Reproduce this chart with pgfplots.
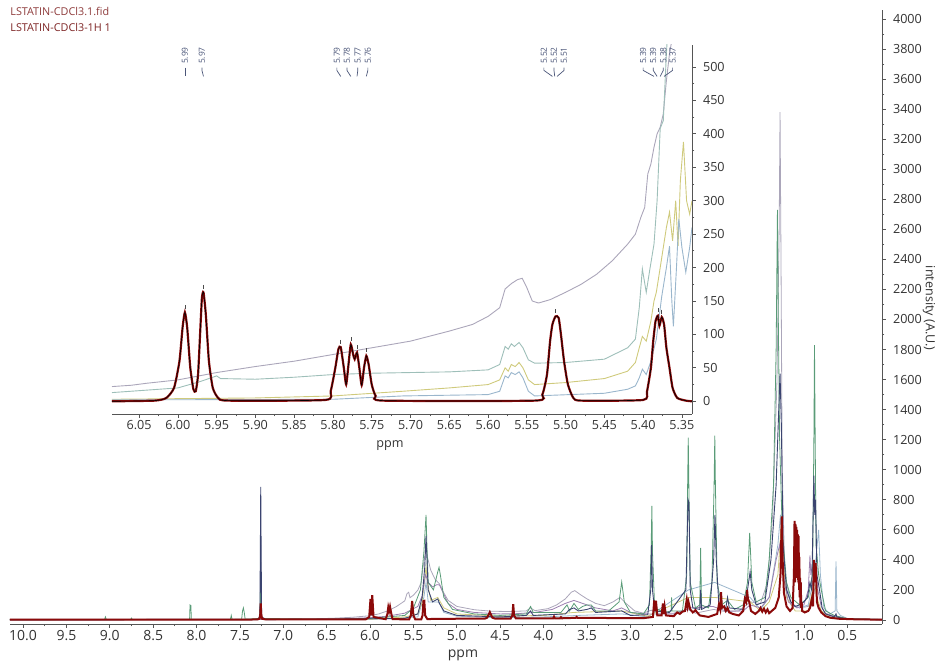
\documentclass[border=0pt]{standalone}
\usepackage{fontspec}
\setmainfont{Open Sans}
\usepackage{pgfplots}
\pgfplotsset{compat=1.18}
\definecolor{cred}{HTML}{8B0A0A}
\definecolor{cnavy}{HTML}{3B4470}
\definecolor{cgreen}{HTML}{5A9C78}
\definecolor{cgrey}{HTML}{ABA6BA}
\definecolor{cmauve}{HTML}{9C80B0}
\definecolor{cyellow}{HTML}{CFCA7C}
\definecolor{cblue}{HTML}{9AB6CC}
\definecolor{cteal}{HTML}{9EBFB9}
\definecolor{labcol}{HTML}{4A5578}
\definecolor{axgray}{HTML}{555555}
\definecolor{tickcol}{HTML}{333333}
\definecolor{tA}{HTML}{8E3B3B}
\definecolor{tB}{HTML}{7D2424}
\begin{document}
\begin{tikzpicture}
\useasboundingbox (0,0) rectangle (468.5pt,331pt);
% ---------------- main spectrum ----------------
\begin{axis}[name=main, at={(5pt,19pt)}, anchor=south west, scale only axis,
  width=436pt, height=307pt,
  x dir=reverse, xmin=0.1, xmax=10.15, ymin=-27, ymax=4060,
  axis x line*=bottom, axis y line*=right,
  xtick={0.5,1,1.5,2,2.5,3,3.5,4,4.5,5,5.5,6,6.5,7,7.5,8,8.5,9,9.5,10},
  minor x tick num=1,
  ytick={0,200,...,4000}, minor y tick num=1,
  tick align=outside, major tick length=2pt, minor tick length=1.2pt,
  axis line style={color=axgray, line width=0.4pt},
  every tick/.style={color=axgray, line width=0.4pt},
  /pgf/number format/assume math mode=true,
  xticklabel style={font=\fontsize{7}{8}\selectfont, text=tickcol, inner sep=1pt, /pgf/number format/.cd, fixed, fixed zerofill, precision=1},
  yticklabel style={font=\fontsize{6.3}{7}\selectfont, text=tickcol, /pgf/number format/.cd, fixed, 1000 sep={}},
  clip=false,
]
\addplot[cgrey, line width=0.4pt] coordinates {(10.15,5)(9.0,5)(7.30,6)(7.265,20)(7.26,500)(7.255,20)(7.2,6)(6.6,8)(6.4,12)(6.2,18)(6.0,28)(5.9,40)(5.8,60)(5.7,88)(5.6,127)(5.575,175)(5.555,184)(5.54,148)(5.50,165)(5.45,198)(5.41,250)(5.39,350)(5.37,420)(5.355,470)(5.34,420)(5.30,330)(5.25,270)(5.20,240)(5.15,180)(5.10,130)(5.0,90)(4.8,68)(4.6,58)(4.4,56)(4.2,60)(4.15,80)(4.10,62)(3.95,75)(3.85,100)(3.75,140)(3.68,185)(3.64,195)(3.58,170)(3.50,140)(3.40,110)(3.30,95)(3.20,120)(3.12,150)(3.05,110)(2.95,60)(2.85,45)(2.76,65)(2.70,45)(2.50,45)(2.34,70)(2.25,45)(2.04,70)(1.9,55)(1.75,60)(1.62,120)(1.50,110)(1.42,250)(1.36,700)(1.31,1600)(1.285,2600)(1.275,3380)(1.265,2500)(1.25,1000)(1.22,300)(1.15,110)(1.05,80)(0.95,90)(0.90,150)(0.87,220)(0.84,90)(0.78,50)(0.7,35)(0.6,20)(0.5,10)(0.1,5)};
\addplot[cblue, line width=0.4pt] coordinates {(10.15,2)(6.0,3)(5.6,15)(5.45,20)(5.38,150)(5.355,250)(5.33,120)(5.22,120)(5.20,110)(5.15,50)(5.0,25)(4.5,15)(4.0,20)(3.6,30)(3.1,40)(2.8,20)(2.33,200)(2.03,250)(1.62,150)(1.5,70)(1.40,150)(1.30,500)(1.27,700)(1.24,300)(1.15,100)(1.05,80)(0.95,100)(0.88,300)(0.83,600)(0.81,300)(0.77,80)(0.70,40)(0.64,60)(0.63,390)(0.62,60)(0.58,30)(0.5,10)(0.1,2)};
\addplot[cyellow, line width=0.4pt] coordinates {(10.15,2)(6.0,4)(5.6,20)(5.45,40)(5.40,120)(5.37,280)(5.355,353)(5.34,250)(5.30,130)(5.22,150)(5.15,80)(5.0,40)(4.5,25)(4.0,30)(3.65,50)(3.1,60)(2.8,25)(2.33,150)(2.03,150)(1.62,120)(1.5,60)(1.40,120)(1.30,300)(1.26,640)(1.24,400)(1.20,150)(1.10,60)(0.95,60)(0.88,250)(0.85,150)(0.80,60)(0.7,20)(0.5,5)(0.1,2)};
\addplot[cmauve, line width=0.4pt] coordinates {(10.15,2)(6.5,4)(6.0,15)(5.8,25)(5.6,45)(5.45,90)(5.40,160)(5.36,300)(5.33,250)(5.28,220)(5.23,235)(5.20,233)(5.15,170)(5.10,110)(5.0,70)(4.8,50)(4.5,40)(4.3,42)(4.1,50)(3.9,70)(3.75,110)(3.65,130)(3.55,110)(3.40,80)(3.20,60)(3.10,80)(3.0,50)(2.8,40)(2.5,40)(2.3,80)(2.05,90)(1.9,60)(1.7,60)(1.62,100)(1.5,80)(1.40,150)(1.32,400)(1.28,500)(1.24,300)(1.18,120)(1.08,80)(1.0,100)(0.95,200)(0.93,430)(0.92,300)(0.90,380)(0.88,250)(0.86,330)(0.84,200)(0.80,90)(0.75,40)(0.6,15)(0.5,5)(0.1,2)};
\addplot[cgreen, line width=0.4pt] coordinates {(10.15,3)(9.06,3)(9.05,20)(9.04,3)(8.76,3)(8.75,12)(8.74,3)(8.08,3)(8.075,100)(8.065,95)(8.06,3)(7.61,3)(7.60,30)(7.59,3)(7.48,5)(7.47,60)(7.46,80)(7.45,50)(7.44,5)(7.27,10)(7.26,300)(7.25,10)(6.5,5)(6.0,10)(5.6,30)(5.50,80)(5.42,200)(5.38,450)(5.355,700)(5.345,500)(5.33,250)(5.27,200)(5.22,320)(5.205,350)(5.19,300)(5.15,150)(5.05,70)(4.8,40)(4.5,30)(4.2,40)(4.15,90)(4.12,50)(3.8,50)(3.73,100)(3.70,60)(3.65,110)(3.60,70)(3.55,90)(3.50,100)(3.45,100)(3.40,60)(3.25,60)(3.13,120)(3.10,253)(3.07,120)(3.0,50)(2.85,40)(2.78,100)(2.76,500)(2.752,760)(2.745,450)(2.72,80)(2.60,50)(2.53,60)(2.525,150)(2.52,60)(2.40,60)(2.35,300)(2.34,900)(2.333,1213)(2.326,900)(2.31,250)(2.25,80)(2.20,100)(2.19,480)(2.18,100)(2.10,80)(2.06,250)(2.035,900)(2.027,1227)(2.02,900)(2.0,250)(1.95,100)(1.88,130)(1.80,70)(1.70,100)(1.65,250)(1.625,580)(1.615,450)(1.60,250)(1.55,120)(1.45,150)(1.40,400)(1.35,900)(1.32,1800)(1.305,2730)(1.295,2000)(1.28,1200)(1.25,600)(1.20,250)(1.15,150)(1.05,100)(0.95,150)(0.90,300)(0.885,1200)(0.878,1830)(0.870,1200)(0.86,500)(0.83,300)(0.80,200)(0.75,60)(0.65,30)(0.5,8)(0.1,3)};
\addplot[cnavy, line width=0.45pt] coordinates {(10.15,0)(7.30,2)(7.27,20)(7.263,600)(7.26,885)(7.257,600)(7.25,20)(7.2,2)(5.6,10)(5.45,40)(5.40,150)(5.37,350)(5.355,560)(5.345,420)(5.33,200)(5.28,120)(5.22,140)(5.20,110)(5.15,60)(5.0,30)(4.5,20)(4.2,30)(4.15,60)(4.12,30)(3.75,40)(3.7,70)(3.65,80)(3.6,60)(3.5,70)(3.45,80)(3.4,50)(3.1,60)(3.0,30)(2.80,35)(2.765,200)(2.755,500)(2.745,200)(2.72,60)(2.55,50)(2.36,200)(2.335,800)(2.325,780)(2.31,200)(2.28,80)(2.20,70)(2.19,200)(2.18,70)(2.08,100)(2.04,400)(2.025,700)(2.01,400)(1.98,100)(1.90,80)(1.88,150)(1.86,80)(1.70,70)(1.65,200)(1.62,320)(1.60,200)(1.55,100)(1.45,120)(1.38,400)(1.32,900)(1.29,1400)(1.275,1640)(1.26,1300)(1.24,500)(1.20,200)(1.15,120)(1.10,90)(1.05,100)(1.0,120)(0.96,150)(0.93,250)(0.91,200)(0.885,960)(0.875,700)(0.865,800)(0.85,300)(0.82,200)(0.79,80)(0.75,40)(0.65,20)(0.63,40)(0.62,20)(0.5,5)(0.1,0)};
\addplot[cred, line width=1pt] coordinates {(10.15,2)(9.0,2)(8.0,2)(7.30,3)(7.275,8)(7.265,40)(7.26,110)(7.255,40)(7.245,8)(7.2,3)(6.5,3)(6.05,4)(6.01,20)(5.995,140)(5.985,30)(5.975,165)(5.96,20)(5.82,5)(5.80,40)(5.79,85)(5.78,60)(5.77,88)(5.755,40)(5.74,5)(5.55,4)(5.53,30)(5.515,127)(5.50,30)(5.48,4)(5.41,4)(5.395,30)(5.385,125)(5.375,127)(5.365,30)(5.34,6)(5.0,8)(4.68,8)(4.65,15)(4.62,52)(4.59,15)(4.56,9)(4.38,9)(4.36,30)(4.35,105)(4.34,30)(4.32,10)(4.0,11)(3.89,11)(3.88,22)(3.87,11)(3.81,11)(3.80,18)(3.79,11)(3.63,14)(3.62,20)(3.61,14)(3.0,12)(2.85,12)(2.74,20)(2.725,130)(2.715,60)(2.705,128)(2.69,30)(2.64,30)(2.625,110)(2.615,40)(2.605,90)(2.59,30)(2.5,25)(2.46,50)(2.43,40)(2.40,55)(2.37,60)(2.35,135)(2.34,90)(2.33,120)(2.31,70)(2.28,50)(2.25,65)(2.23,50)(2.20,30)(2.10,20)(2.0,40)(1.98,100)(1.965,70)(1.955,185)(1.945,80)(1.92,90)(1.90,60)(1.88,80)(1.86,50)(1.82,40)(1.75,30)(1.70,60)(1.68,140)(1.665,120)(1.655,200)(1.645,140)(1.63,120)(1.61,60)(1.56,40)(1.52,60)(1.50,80)(1.48,55)(1.46,75)(1.44,50)(1.42,70)(1.40,45)(1.37,60)(1.33,80)(1.29,150)(1.27,300)(1.255,690)(1.245,400)(1.23,180)(1.20,90)(1.16,60)(1.13,80)(1.115,300)(1.108,660)(1.102,250)(1.097,640)(1.092,300)(1.087,620)(1.082,280)(1.078,600)(1.073,300)(1.069,570)(1.065,250)(1.061,560)(1.056,200)(1.052,420)(1.048,150)(1.044,280)(1.040,100)(1.036,250)(1.031,80)(1.026,120)(1.02,60)(0.99,50)(0.95,60)(0.93,80)(0.905,150)(0.895,90)(0.885,400)(0.875,250)(0.865,380)(0.85,120)(0.83,80)(0.80,50)(0.75,25)(0.70,15)(0.60,8)(0.40,4)(0.1,2)};
\end{axis}
% ---------------- inset ----------------
\begin{axis}[name=inset, at={(56pt,124pt)}, anchor=south west, scale only axis,
  width=290pt, height=184.5pt,
  x dir=reverse, xmin=5.337, xmax=6.085, ymin=-19, ymax=533,
  axis x line*=bottom, axis y line*=right,
  xtick={5.35,5.40,5.45,5.50,5.55,5.60,5.65,5.70,5.75,5.80,5.85,5.90,5.95,6.00,6.05},
  minor x tick num=1,
  ytick={0,50,...,500}, minor y tick num=1,
  tick align=outside, major tick length=2pt, minor tick length=1.2pt,
  axis line style={color=axgray, line width=0.4pt},
  every tick/.style={color=axgray, line width=0.4pt},
  /pgf/number format/assume math mode=true,
  xticklabel style={font=\fontsize{6.3}{7}\selectfont, text=tickcol, inner sep=1pt, /pgf/number format/.cd, fixed, fixed zerofill, precision=2},
  yticklabel style={font=\fontsize{6.3}{7}\selectfont, text=tickcol, /pgf/number format/.cd, fixed, 1000 sep={}},
]
\addplot[cgrey, line width=0.45pt] coordinates {(6.085,22)(6.06,24)(6.04,27)(6.0,32)(5.95,43)(5.90,52)(5.85,60)(5.80,70)(5.75,80)(5.70,90)(5.65,105)(5.62,115)(5.60,127)(5.585,140)(5.578,168)(5.570,176)(5.562,182)(5.556,184)(5.550,170)(5.543,150)(5.535,147)(5.52,152)(5.50,163)(5.48,175)(5.46,190)(5.44,210)(5.42,235)(5.41,250)(5.403,275)(5.398,290)(5.394,340)(5.390,355)(5.386,380)(5.382,400)(5.378,410)(5.374,430)(5.370,480)(5.366,520)(5.36,560)(5.357,600)(5.352,540)(5.348,620)(5.337,600)};
\addplot[cteal, line width=0.45pt] coordinates {(6.085,13)(6.0,20)(5.97,30)(5.955,36)(5.95,38)(5.945,34)(5.90,33)(5.85,36)(5.80,40)(5.75,42)(5.70,43)(5.65,44)(5.60,47)(5.585,55)(5.578,82)(5.574,78)(5.570,86)(5.566,82)(5.560,88)(5.555,80)(5.548,62)(5.540,57)(5.50,58)(5.45,63)(5.42,80)(5.41,93)(5.405,140)(5.401,198)(5.396,163)(5.391,200)(5.386,235)(5.382,300)(5.378,408)(5.374,420)(5.370,520)(5.366,600)(5.36,560)(5.355,620)(5.35,600)(5.345,640)(5.337,620)};
\addplot[cyellow, line width=0.45pt] coordinates {(6.085,3)(5.90,5)(5.80,8)(5.71,15)(5.65,20)(5.60,25)(5.585,32)(5.578,50)(5.574,45)(5.570,55)(5.565,52)(5.560,58)(5.555,50)(5.548,32)(5.54,25)(5.50,28)(5.45,34)(5.42,45)(5.41,58)(5.405,80)(5.401,97)(5.396,90)(5.39,120)(5.386,150)(5.383,163)(5.378,200)(5.374,230)(5.370,260)(5.366,283)(5.362,240)(5.358,300)(5.355,232)(5.352,330)(5.348,388)(5.344,300)(5.340,280)(5.337,300)};
\addplot[cblue, line width=0.45pt] coordinates {(6.085,2)(5.80,3)(5.71,8)(5.60,10)(5.585,15)(5.578,38)(5.574,35)(5.570,43)(5.565,40)(5.560,44)(5.555,35)(5.548,15)(5.54,8)(5.45,12)(5.42,18)(5.41,23)(5.405,35)(5.401,48)(5.396,40)(5.39,60)(5.383,93)(5.376,157)(5.370,200)(5.366,232)(5.363,150)(5.361,112)(5.357,200)(5.354,273)(5.350,230)(5.345,193)(5.340,230)(5.337,260)};
\addplot[cred, line width=1.1pt, smooth, tension=0.35] coordinates {(6.085,0)(6.03,1)(6.015,5)(6.005,20)(5.998,60)(5.994,110)(5.991,133)(5.988,110)(5.984,50)(5.980,18)(5.977,15)(5.974,40)(5.971,110)(5.969,155)(5.967,163)(5.964,130)(5.960,60)(5.955,20)(5.948,5)(5.935,1)(5.81,2)(5.803,15)(5.797,50)(5.793,78)(5.790,81)(5.786,50)(5.783,25)(5.780,55)(5.777,85)(5.774,70)(5.772,63)(5.769,73)(5.766,50)(5.763,24)(5.760,50)(5.757,68)(5.754,55)(5.750,25)(5.745,8)(5.735,1)(5.54,1)(5.53,10)(5.524,40)(5.520,90)(5.517,115)(5.513,127)(5.509,125)(5.506,100)(5.502,60)(5.497,25)(5.490,5)(5.48,1)(5.40,2)(5.395,15)(5.390,50)(5.387,90)(5.384,120)(5.381,128)(5.379,113)(5.376,126)(5.373,115)(5.370,80)(5.366,50)(5.362,20)(5.356,5)(5.345,1)(5.337,0)};
\addplot[black, line width=0.3pt, smooth, tension=0.35] coordinates {(6.085,0)(6.03,1)(6.015,5)(6.005,20)(5.998,60)(5.994,110)(5.991,133)(5.988,110)(5.984,50)(5.980,18)(5.977,15)(5.974,40)(5.971,110)(5.969,155)(5.967,163)(5.964,130)(5.960,60)(5.955,20)(5.948,5)(5.935,1)(5.81,2)(5.803,15)(5.797,50)(5.793,78)(5.790,81)(5.786,50)(5.783,25)(5.780,55)(5.777,85)(5.774,70)(5.772,63)(5.769,73)(5.766,50)(5.763,24)(5.760,50)(5.757,68)(5.754,55)(5.750,25)(5.745,8)(5.735,1)(5.54,1)(5.53,10)(5.524,40)(5.520,90)(5.517,115)(5.513,127)(5.509,125)(5.506,100)(5.502,60)(5.497,25)(5.490,5)(5.48,1)(5.40,2)(5.395,15)(5.390,50)(5.387,90)(5.384,120)(5.381,128)(5.379,113)(5.376,126)(5.373,115)(5.370,80)(5.366,50)(5.362,20)(5.356,5)(5.345,1)(5.337,0)};
\addplot[only marks, mark=|, mark size=1pt, black!70, line width=0.3pt] coordinates {(5.991,141)(5.967,171)(5.790,89)(5.777,93)(5.769,81)(5.757,76)(5.513,135)(5.381,136)(5.376,134)};
% peak labels
\foreach \lx/\px/\t in {5.991/5.991/5.99, 5.969/5.967/5.97, 5.795/5.790/5.79, 5.782/5.777/5.78, 5.768/5.769/5.77, 5.755/5.757/5.76, 5.528/5.517/5.52, 5.515/5.514/5.52, 5.502/5.511/5.51, 5.400/5.386/5.39, 5.387/5.382/5.39, 5.374/5.378/5.38, 5.362/5.373/5.37}{
  \edef\tmp{\noexpand\node[rotate=90, anchor=west, inner sep=0pt, font=\noexpand\fontsize{4.2}{5}\noexpand\selectfont, text=labcol] at (axis cs:\lx,504) {\t};
  \noexpand\draw[labcol, line width=0.35pt] (axis cs:\lx,499) -- (axis cs:\lx,495) -- (axis cs:\px,486);}
  \tmp
}
\end{axis}
% ---------------- texts ----------------
\node[anchor=west, inner sep=0pt, font=\fontsize{5.4}{6}\selectfont, text=tA] at (5pt,325.5pt) {LSTATIN-CDCl3.1.fid};
\node[anchor=west, inner sep=0pt, font=\fontsize{5.4}{6}\selectfont, text=tB] at (5pt,317.5pt) {LSTATIN-CDCl3-1H 1};
\node[inner sep=0pt, font=\fontsize{7}{8}\selectfont, text=tickcol] at (231.5pt,3.2pt) {ppm};
\node[inner sep=0pt, font=\fontsize{6.3}{7}\selectfont, text=tickcol] at (195pt,108.3pt) {ppm};
\node[rotate=-90, inner sep=0pt, font=\fontsize{6.3}{7}\selectfont, text=tickcol] at (464.5pt,177pt) {intensity (A.U.)};
\end{tikzpicture}
\end{document}
